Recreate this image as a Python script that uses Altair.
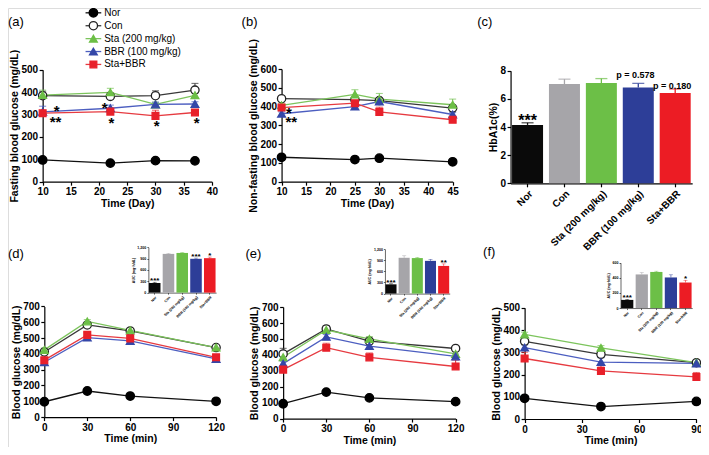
import altair as alt
import pandas as pd

# ---------------------------------------------------------------- data
GROUPS = ["Nor", "Con", "Sta (200 mg/kg)", "BBR (100 mg/kg)", "Sta+BBR"]

# (a) fasting blood glucose
a_day = [10, 22, 30, 37]
a_nor = [97, 83, 94, 93]
a_nor_sem = [5, 4, 5, 5]
a_con = [384, 381, 384, 409]
a_con_sem = [20, 15, 22, 30]
a_sta = [387, 399, 345, 386]
a_sta_sem = [22, 18, 10, 15]
a_bbr = [312, 328, 345, 347]
a_bbr_sem = [25, 14, 10, 10]
a_sb = [306, 313, 294, 309]
a_sb_sem = [10, 10, 25, 10]
a_star_x = [12.5, 12.3, 21.0, 22.2, 30.2, 37.3]
a_star_y = [330, 280, 342, 276, 263, 276]
a_star_t = ["*", "**", "*", "*", "*", "*"]

# (b) non-fasting blood glucose
b_day = [10, 25, 30, 45]
b_nor = [130, 118, 125, 106]
b_nor_sem = [8, 6, 6, 6]
b_con = [442, 437, 432, 392]
b_con_sem = [10, 12, 12, 15]
b_sta = [407, 465, 440, 410]
b_sta_sem = [12, 25, 30, 30]
b_bbr = [362, 400, 427, 358]
b_bbr_sem = [10, 10, 10, 10]
b_sb = [395, 418, 372, 330]
b_sb_sem = [10, 10, 25, 10]
b_star_x = [11.5, 12.0]
b_star_y = [380, 334]
b_star_t = ["*", "**"]

# (c) HbA1c
c_mean = [4.15, 7.05, 7.12, 6.80, 6.42]
c_sem = [0.15, 0.35, 0.32, 0.30, 0.28]
c_star = ["***", "", "", "", ""]
c_p_group = ["BBR (100 mg/kg)", "Sta+BBR"]
c_p_y = [7.72, 6.90]
c_p_text = ["p = 0.578", "p = 0.180"]

# (d) OGTT
d_min = [0, 30, 60, 120]
d_nor = [97, 165, 133, 100]
d_nor_sem = [6, 8, 8, 6]
d_con = [412, 583, 545, 440]
d_con_sem = [15, 15, 12, 12]
d_sta = [425, 605, 548, 440]
d_sta_sem = [12, 12, 12, 10]
d_bbr = [347, 503, 482, 368]
d_bbr_sem = [12, 12, 12, 10]
d_sb = [360, 520, 498, 378]
d_sb_sem = [15, 15, 15, 15]
d_auc = [255, 1025, 1050, 895, 912]
d_auc_sem = [20, 15, 12, 20, 30]
d_auc_star = ["***", "", "", "***", "*"]

# (e)
e_min = [0, 30, 60, 120]
e_nor = [93, 166, 130, 106]
e_nor_sem = [6, 8, 8, 6]
e_con = [406, 563, 486, 440]
e_con_sem = [35, 20, 18, 10]
e_sta = [385, 556, 500, 406]
e_sta_sem = [15, 12, 15, 15]
e_bbr = [345, 513, 455, 390]
e_bbr_sem = [15, 15, 15, 15]
e_sb = [307, 445, 384, 327]
e_sb_sem = [12, 28, 28, 40]
e_auc = [250, 968, 960, 885, 748]
e_auc_sem = [15, 55, 20, 40, 55]
e_auc_star = ["***", "", "", "", "**"]

# (f)
f_min = [0, 40, 90]
f_nor = [93, 56, 79]
f_nor_sem = [5, 5, 5]
f_con = [349, 291, 253]
f_con_sem = [15, 15, 10]
f_sta = [380, 320, 253]
f_sta_sem = [10, 10, 8]
f_bbr = [321, 256, 250]
f_bbr_sem = [12, 20, 8]
f_sb = [272, 216, 189]
f_sb_sem = [28, 22, 20]
f_auc = [108, 445, 478, 405, 338]
f_auc_sem = [8, 25, 10, 35, 30]
f_auc_star = ["***", "", "", "", "*"]

# ---------------------------------------------------------------- styling
FONT = "Liberation Sans"
W, H = 693, 439
SX = 693 / 706
SY = 439 / 455


def px(v):
    return round((v - 3) * SX, 2)


def py(v):
    return round(v * SY, 2)


LINE_COL = {"Nor": "#111111", "Con": "#383838", "Sta (200 mg/kg)": "#7cc45c",
            "BBR (100 mg/kg)": "#4c5ec0", "Sta+BBR": "#e63a40"}
MARK_FILL = {"Nor": "#000000", "Con": "#ffffff", "Sta (200 mg/kg)": "#6cbf46",
             "BBR (100 mg/kg)": "#3447a8", "Sta+BBR": "#e8202a"}
MARK_STROKE = {"Nor": "#000000", "Con": "#222222", "Sta (200 mg/kg)": "#6cbf46",
               "BBR (100 mg/kg)": "#3447a8", "Sta+BBR": "#e8202a"}
SHAPE = {"Nor": "circle", "Con": "circle", "Sta (200 mg/kg)": "triangle-up",
         "BBR (100 mg/kg)": "triangle-up", "Sta+BBR": "square"}
SIZE = {"Nor": 72, "Con": 68, "Sta (200 mg/kg)": 60, "BBR (100 mg/kg)": 60, "Sta+BBR": 46}
BAR_COL = ["#0a0a0a", "#a6a5a9", "#6cbf47", "#2d3e98", "#ec1c24"]

MAIN_AX = dict(labelFont=FONT, titleFont=FONT, labelFontSize=10, titleFontSize=10.5,
               labelFontWeight="bold", titleFontWeight="bold", tickSize=3.5, tickWidth=1.2,
               domainWidth=1.2, domainColor="black", tickColor="black", labelColor="black",
               titleColor="black", labelPadding=1.5, titlePadding=1.5, grid=False,
               labelFlush=False, labelOverlap=False)
INSET_AX = dict(labelFont=FONT, titleFont=FONT, labelFontSize=3.6, titleFontSize=3.6,
                labelFontWeight="bold", titleFontWeight="bold", tickSize=1.5, tickWidth=0.6,
                domainWidth=0.6, domainColor="black", tickColor="black", labelColor="black",
                titleColor="black", labelPadding=1, titlePadding=1.5, grid=False,
                labelFlush=False, labelOverlap=False)


def series_df(times, series):
    rows = []
    for g, m, s in series:
        for t, v, e in zip(times, m, s):
            rows.append(dict(x=t, y=v, top=v + e, g=g, lc=LINE_COL[g], fc=MARK_FILL[g],
                             sc=MARK_STROKE[g], sh=SHAPE[g], sz=SIZE[g]))
    return pd.DataFrame(rows)


def line_panel(times, series, stars, xdom, xvals, ydom, yvals, box, xtitle, ytitle):
    (ix0, ix1), (iyb, iyt) = box
    X0, X1, YB, YT = px(ix0), px(ix1), py(iyb), py(iyt)
    xs = alt.Scale(domain=xdom, range=[X0, X1], nice=False, zero=False)
    ys = alt.Scale(domain=ydom, range=[YB, YT], nice=False, zero=False)
    xax = alt.Axis(orient="bottom", offset=YB - H, values=xvals, title=xtitle, **MAIN_AX)
    yax = alt.Axis(orient="left", offset=-X0, values=yvals, title=ytitle, **MAIN_AX)
    df = series_df(times, series)
    X = alt.X("x:Q", scale=xs, axis=xax)
    Y = alt.Y("y:Q", scale=ys, axis=yax)
    Ytop = alt.Y("top:Q", scale=ys, axis=yax)
    base = alt.Chart(df)
    line = base.mark_line(strokeWidth=1.3).encode(
        x=X, y=Y, color=alt.Color("lc:N", scale=None), detail="g:N")
    err = base.mark_rule(strokeWidth=1.1).encode(
        x=X, y=Y, y2="top:Q", color=alt.Color("lc:N", scale=None))
    cap = base.mark_tick(orient="horizontal", size=7, thickness=1.1).encode(
        x=X, y=Ytop, color=alt.Color("lc:N", scale=None))
    pts = base.mark_point(filled=True, opacity=1, strokeWidth=1.3).encode(
        x=X, y=Y,
        shape=alt.Shape("sh:N", scale=None),
        fill=alt.Fill("fc:N", scale=None),
        stroke=alt.Stroke("sc:N", scale=None),
        size=alt.Size("sz:Q", scale=None))
    layers = [line, err, cap, pts]
    if stars is not None:
        sdf = pd.DataFrame(dict(x=stars[0], y=stars[1], t=stars[2]))
        st = alt.Chart(sdf).mark_text(font=FONT, fontSize=15, fontWeight="bold",
                                      baseline="middle", dy=3, color="black").encode(
            x=X, y=Y, text="t:N")
        layers.append(st)
    return alt.layer(*layers)


def bar_panel(vals, sems, stars, ydom, yvals, box, ytitle, style, cap_size, line_w,
              star_size, star_dy, extra=None):
    (ix0, ix1), (iyb, iyt) = box
    X0, X1, YB, YT = px(ix0), px(ix1), py(iyb), py(iyt)
    df = pd.DataFrame(dict(g=GROUPS, v=vals, top=[v + s for v, s in zip(vals, sems)],
                           c=BAR_COL, n=stars))
    xs = alt.Scale(domain=GROUPS, range=[X0, X1], paddingInner=0.16, paddingOuter=0.04)
    ys = alt.Scale(domain=ydom, range=[YB, YT], nice=False, zero=True)
    xax = alt.Axis(orient="bottom", offset=YB - H, title=None, labelAngle=-45, **style)
    yax = alt.Axis(orient="left", offset=-X0, values=yvals, title=ytitle, **style)
    X = alt.X("g:N", scale=xs, axis=xax, sort=GROUPS)
    Y = alt.Y("v:Q", scale=ys, axis=yax)
    Ytop = alt.Y("top:Q", scale=ys, axis=yax)
    base = alt.Chart(df)
    bars = base.mark_bar().encode(x=X, y=Y, color=alt.Color("c:N", scale=None))
    err = base.mark_rule(strokeWidth=line_w).encode(
        x=X, y=Y, y2="top:Q", color=alt.Color("c:N", scale=None))
    cap = base.mark_tick(orient="horizontal", size=cap_size, thickness=line_w).encode(
        x=X, y=Ytop, color=alt.Color("c:N", scale=None))
    txt = base.mark_text(font=FONT, fontSize=star_size, fontWeight="bold",
                         baseline="middle", dy=star_dy, color="black").encode(
        x=X, y=Ytop, text="n:N")
    layers = [bars, err, cap, txt]
    if extra is not None:
        pdf = pd.DataFrame(dict(g=extra[0], top=extra[1], t=extra[2]))
        ptxt = alt.Chart(pdf).mark_text(font=FONT, fontSize=9, fontWeight="bold",
                                        baseline="middle", dx=-3, color="black").encode(
            x=X, y=Ytop, text="t:N")
        layers.append(ptxt)
    return alt.layer(*layers)


# ---------------------------------------------------------------- panels
pa = line_panel(a_day, [("Nor", a_nor, a_nor_sem), ("Con", a_con, a_con_sem),
                        ("Sta (200 mg/kg)", a_sta, a_sta_sem),
                        ("BBR (100 mg/kg)", a_bbr, a_bbr_sem), ("Sta+BBR", a_sb, a_sb_sem)],
                (a_star_x, a_star_y, a_star_t), [10, 40], [10, 15, 20, 25, 30, 35, 40],
                [0, 500], [0, 100, 200, 300, 400, 500], ((38.3, 210.7), (180, 64)),
                "Time (Day)", "Fasting blood glucose (mg/dL)")

pb = line_panel(b_day, [("Nor", b_nor, b_nor_sem), ("Con", b_con, b_con_sem),
                        ("Sta (200 mg/kg)", b_sta, b_sta_sem),
                        ("BBR (100 mg/kg)", b_bbr, b_bbr_sem), ("Sta+BBR", b_sb, b_sb_sem)],
                (b_star_x, b_star_y, b_star_t), [10, 45], [10, 15, 20, 25, 30, 35, 40, 45],
                [0, 600], [0, 100, 200, 300, 400, 500, 600], ((281.7, 456), (180, 63.3)),
                "Time (Day)", "Non-fasting blood glucose (mg/dL)")

pc = bar_panel(c_mean, c_sem, c_star, [0, 8], [0, 2, 4, 6, 8], ((515, 700), (181.7, 65)),
               "HbA1c(%)", MAIN_AX, 12, 1.3, 16, -2, extra=(c_p_group, c_p_y, c_p_text))

pd_ = line_panel(d_min, [("Nor", d_nor, d_nor_sem), ("Con", d_con, d_con_sem),
                         ("Sta (200 mg/kg)", d_sta, d_sta_sem),
                         ("BBR (100 mg/kg)", d_bbr, d_bbr_sem), ("Sta+BBR", d_sb, d_sb_sem)],
                 None, [0, 120], [0, 30, 60, 90, 120], [0, 700],
                 [0, 100, 200, 300, 400, 500, 600, 700], ((40, 215), (424, 309.3)),
                 "Time (min)", "Blood glucose (mg/dL)")

pe = line_panel(e_min, [("Nor", e_nor, e_nor_sem), ("Con", e_con, e_con_sem),
                        ("Sta (200 mg/kg)", e_sta, e_sta_sem),
                        ("BBR (100 mg/kg)", e_bbr, e_bbr_sem), ("Sta+BBR", e_sb, e_sb_sem)],
                None, [0, 120], [0, 30, 60, 90, 120], [0, 700],
                [0, 100, 200, 300, 400, 500, 600, 700], ((283.3, 459), (425.5, 310)),
                "Time (min)", "Blood glucose (mg/dL)")

pf = line_panel(f_min, [("Nor", f_nor, f_nor_sem), ("Con", f_con, f_con_sem),
                        ("Sta (200 mg/kg)", f_sta, f_sta_sem),
                        ("BBR (100 mg/kg)", f_bbr, f_bbr_sem), ("Sta+BBR", f_sb, f_sb_sem)],
                None, [0, 90], [0, 30, 60, 90], [0, 500], [0, 100, 200, 300, 400, 500],
                ((529.3, 704.3), (426, 310.7)), "Time (min)", "Blood glucose (mg/dL)")

AUC_T = "AUC (mg·h/dL)"
ind = bar_panel(d_auc, d_auc_sem, d_auc_star, [0, 1200], [0, 300, 600, 900, 1200],
                ((146, 215), (295, 248)), AUC_T, INSET_AX, 4, 0.6, 8, -1)
ine = bar_panel(e_auc, e_auc_sem, e_auc_star, [0, 1200], [0, 300, 600, 900, 1200],
                ((387, 453), (296, 250)), AUC_T, INSET_AX, 4, 0.6, 8, -1)
inf = bar_panel(f_auc, f_auc_sem, f_auc_star, [0, 600], [0, 200, 400, 600],
                ((627, 700), (311, 264)), AUC_T, INSET_AX, 4, 0.6, 8, -1)

# ---------------------------------------------------------------- legend
leg_df = pd.DataFrame(dict(g=GROUPS, lc=[LINE_COL[g] for g in GROUPS],
                           fc=[MARK_FILL[g] for g in GROUPS],
                           sc=[MARK_STROKE[g] for g in GROUPS],
                           sh=[SHAPE[g] for g in GROUPS], sz=[SIZE[g] for g in GROUPS]))
LY = alt.Y("g:N", scale=alt.Scale(type="point", domain=GROUPS, range=[py(5), py(58.5)],
                                  padding=0), axis=None)
leg_base = alt.Chart(leg_df)
leg_line = leg_base.mark_rule(strokeWidth=1.3).encode(
    y=LY, x=alt.value(px(82)), x2=alt.value(px(98)), color=alt.Color("lc:N", scale=None))
leg_pts = leg_base.mark_point(filled=True, opacity=1, strokeWidth=1.3).encode(
    y=LY, x=alt.value(px(90)), shape=alt.Shape("sh:N", scale=None),
    fill=alt.Fill("fc:N", scale=None), stroke=alt.Stroke("sc:N", scale=None),
    size=alt.Size("sz:Q", scale=None))
leg_txt = leg_base.mark_text(font=FONT, fontSize=10, align="left", baseline="middle",
                             color="black").encode(y=LY, x=alt.value(px(101)), text="g:N")
legend = alt.layer(leg_line, leg_pts, leg_txt)

# ---------------------------------------------------------------- panel letters
def letter(t, x, y):
    return alt.Chart(pd.DataFrame({"t": [t]})).mark_text(
        font=FONT, fontSize=13, align="left", baseline="middle", color="black").encode(
        text="t:N", x=alt.value(px(x)), y=alt.value(py(y)))


letters = alt.layer(letter("(a)", 3, 14), letter("(b)", 241, 14), letter("(c)", 481, 15),
                    letter("(d)", 3, 255), letter("(e)", 245, 255), letter("(f)", 487, 253))

chart = alt.layer(pa, pb, pc, pd_, pe, pf, ind, ine, inf, legend, letters).resolve_scale(
    x="independent", y="independent"
).properties(
    width=W, height=H, padding=0, autosize=alt.AutoSizeParams(type="none"),
    background="white"
).configure_view(stroke=None).configure(font=FONT)

chart.save("out.html", embed_options={"renderer": "svg", "actions": False})
